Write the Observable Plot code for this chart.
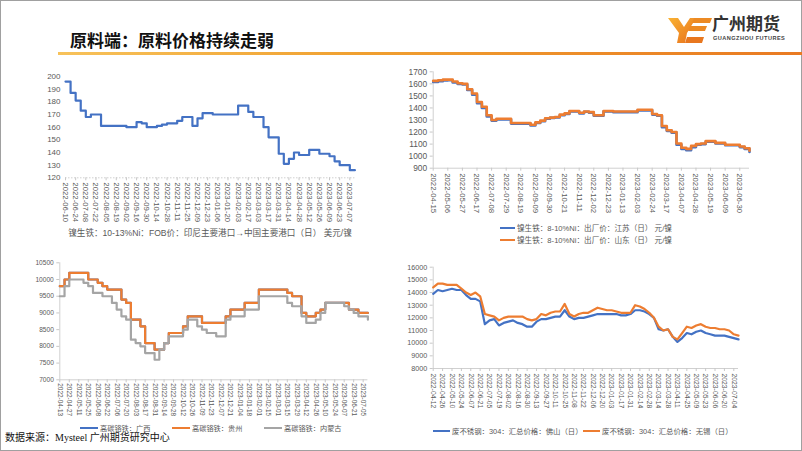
<!DOCTYPE html>
<html><head><meta charset="utf-8">
<script src="https://cdn.jsdelivr.net/npm/d3@7"></script>
<script src="https://cdn.jsdelivr.net/npm/@observablehq/plot@0.6"></script>
<style>
html,body{margin:0;padding:0;background:#fff;}
#slide{position:relative;width:802px;height:451px;overflow:hidden;font-family:"Noto Sans CJK SC",sans-serif;background:#fff;}
.abs{position:absolute;}
.leg{position:absolute;color:#595959;white-space:nowrap;font-family:"Liberation Sans","Noto Sans CJK SC",sans-serif;}
.sw{display:inline-block;height:2px;vertical-align:middle;margin-right:2px;position:relative;top:-1px;}
</style></head>
<body><div id="slide">
<div class="abs" style="left:0;top:0;width:802px;height:451px;box-sizing:border-box;border:1px solid #a0a0a0;"></div>
<div class="abs" style="left:70px;top:29px;font-size:17px;line-height:22px;font-weight:bold;color:#111;">原料端：原料价格持续走弱</div>
<div class="abs" style="left:58px;top:52px;width:744px;height:3px;background:linear-gradient(90deg,#f7c25a,#f0a030 40%,#e97a22);"></div>
<svg class="abs" style="left:668px;top:15px" width="44" height="30" viewBox="0 0 44 30">
<defs><linearGradient id="lg" x1="0" x2="1" y1="0" y2="1"><stop offset="0" stop-color="#f9b233"/><stop offset="1" stop-color="#e8711d"/></linearGradient></defs>
<polygon points="0,3 10,3 16,12 22,3 28,3 19,18 17,28 9,28 11,18" fill="url(#lg)"/>
<polygon points="26,3 44,3 42,8 24,8" fill="#ec8a24"/>
<polygon points="22,11 39,11 37,16 20,16" fill="#ec8a24"/>
<polygon points="19,22 36,22 34,28 17,28" fill="#e8771f"/>
</svg>
<div class="abs" style="left:712px;top:12px;font-size:17px;line-height:22px;font-weight:bold;color:#333;">广州期货</div>
<div class="abs" style="left:713px;top:35px;font-size:5.6px;line-height:7px;font-weight:bold;color:#444;letter-spacing:0.45px;font-family:'Liberation Sans',sans-serif;">GUANGZHOU FUTURES</div>

<div id="c1" class="abs" style="left:30px;top:60px"></div>
<div id="c2" class="abs" style="left:390px;top:60px"></div>
<div id="c3" class="abs" style="left:10px;top:250px"></div>
<div id="c4" class="abs" style="left:390px;top:255px"></div>

<div class="leg" style="left:30px;top:227px;width:360px;text-align:center;font-size:8.6px;line-height:13px;">镍生铁：10-13%Ni：FOB价：印尼主要港口→中国主要港口（日） 美元/镍</div>
<div class="leg" style="left:500px;top:223px;font-size:7.6px;line-height:12px;"><span class="sw" style="width:15px;background:#4472C4"></span>镍生铁：8-10%Ni：出厂价：江苏（日） 元/镍</div>
<div class="leg" style="left:500px;top:235px;font-size:7.6px;line-height:12px;"><span class="sw" style="width:15px;background:#ED7D31"></span>镍生铁：8-10%Ni：出厂价：山东（日） 元/镍</div>
<div class="leg" style="left:80px;top:423px;font-size:7.2px;line-height:11px;"><span class="sw" style="width:18px;background:#4472C4"></span>高碳铬铁：广西</div>
<div class="leg" style="left:172px;top:423px;font-size:7.2px;line-height:11px;"><span class="sw" style="width:18px;background:#ED7D31"></span>高碳铬铁：贵州</div>
<div class="leg" style="left:264px;top:423px;font-size:7.2px;line-height:11px;"><span class="sw" style="width:18px;background:#A5A5A5"></span>高碳铬铁：内蒙古</div>
<div class="leg" style="left:433px;top:426px;font-size:7.4px;line-height:12px;"><span class="sw" style="width:17px;background:#4472C4"></span>废不锈钢：304：汇总价格：佛山（日）</div>
<div class="leg" style="left:583px;top:426px;font-size:7.4px;line-height:12px;"><span class="sw" style="width:17px;background:#ED7D31"></span>废不锈钢：304：汇总价格：无锡（日）</div>
<div class="abs" style="left:5px;top:431px;font-size:10px;line-height:14px;color:#111;font-family:'Liberation Serif','Noto Sans CJK SC',serif;">数据来源：Mysteel 广州期货研究中心</div>
</div>
<script>
// ---------- Chart 1: 镍生铁 10-13%Ni FOB (weekly, from 2022-06-10) ----------
const c1Start = "2022-06-10";
const c1Ticks = ["2022-06-10","2022-06-24","2022-07-08","2022-07-22","2022-08-05","2022-08-19","2022-09-02","2022-09-16","2022-09-30","2022-10-14","2022-10-28","2022-11-11","2022-11-25","2022-12-09","2022-12-23","2023-01-06","2023-01-20","2023-02-03","2023-02-17","2023-03-03","2023-03-17","2023-03-31","2023-04-14","2023-04-28","2023-05-12","2023-05-26","2023-06-09","2023-06-23","2023-07-07"];
const c1YTicks = [120,130,140,150,160,170,180,190,200];
const c1Values = [196,187,181,173,168,170,170,161,161,161,161,161,160,160,164,163,160,160,161,162,163,163,165,168,168,161,167,171,171,170,170,170,170,170,177,177,172,168,168,160,152,152,139,131,135,140,138,138,142,142,139,139,137,133,130,130,126,126];

// ---------- Chart 2: 镍生铁 8-10%Ni 出厂价 (weekly, from 2022-04-15) ----------
const c2Start = "2022-04-15";
const c2Ticks = ["2022-04-15","2022-05-06","2022-05-27","2022-06-17","2022-07-08","2022-07-29","2022-08-19","2022-09-09","2022-09-30","2022-10-21","2022-11-11","2022-12-02","2022-12-23","2023-01-13","2023-02-03","2023-02-24","2023-03-17","2023-04-07","2023-04-28","2023-05-19","2023-06-09","2023-06-30"];
const c2YTicks = [900,1000,1100,1200,1300,1400,1500,1600,1700];
const c2Jiangsu = [1615,1622,1628,1630,1612,1600,1595,1550,1510,1440,1400,1330,1295,1305,1305,1305,1270,1270,1270,1270,1255,1275,1290,1310,1318,1322,1340,1350,1370,1370,1355,1368,1360,1335,1335,1370,1370,1365,1365,1365,1365,1365,1380,1380,1380,1345,1335,1240,1210,1195,1095,1060,1050,1075,1095,1100,1120,1120,1105,1105,1090,1090,1090,1075,1060,1035];
const c2Shandong = [1625,1630,1635,1635,1620,1605,1600,1555,1520,1450,1410,1340,1300,1310,1310,1310,1275,1275,1275,1275,1260,1280,1295,1315,1320,1325,1345,1355,1375,1375,1360,1370,1365,1340,1340,1375,1375,1370,1370,1370,1370,1370,1385,1385,1385,1350,1340,1250,1215,1200,1105,1070,1060,1085,1100,1105,1125,1125,1110,1110,1095,1095,1095,1080,1065,1045];

// ---------- Chart 3: 高碳铬铁 (weekly, from 2022-04-13) ----------
const c3Start = "2022-04-13";
const c3Ticks = ["2022-04-13","2022-04-27","2022-05-11","2022-05-25","2022-06-08","2022-06-22","2022-07-06","2022-07-20","2022-08-03","2022-08-17","2022-08-31","2022-09-14","2022-09-28","2022-10-12","2022-10-26","2022-11-09","2022-11-23","2022-12-07","2022-12-21","2023-01-04","2023-01-18","2023-02-01","2023-02-15","2023-03-01","2023-03-15","2023-03-29","2023-04-12","2023-04-26","2023-05-10","2023-05-24","2023-06-07","2023-06-21","2023-07-05"];
const c3YTicks = [7000,7500,8000,8500,9000,9500,10000,10500];
const c3Guangxi = [9800,10000,10200,10200,10200,10200,10000,10000,9900,9800,9700,9700,9700,9400,9300,8800,8800,8600,8100,8100,7900,7900,8100,8400,8400,8400,8600,8900,8900,8900,8700,8700,8700,8700,8700,8900,9100,9100,9100,9300,9300,9300,9700,9700,9700,9700,9700,9700,9600,9500,9500,9000,8900,8900,9000,9100,9300,9300,9300,9300,9300,9100,9100,9000,9000,9000];
const c3Guizhou = [9800,10000,10200,10200,10200,10200,10000,10000,9900,9800,9700,9700,9700,9400,9300,8800,8800,8600,8100,8100,7900,7900,8100,8400,8400,8400,8600,8900,8900,8900,8700,8700,8700,8700,8700,8900,9100,9100,9100,9300,9300,9300,9700,9700,9700,9700,9700,9700,9600,9500,9500,9000,8900,8900,9000,9100,9300,9300,9300,9300,9300,9100,9100,9000,9000,9000];
const c3Neimenggu = [9500,9800,10000,10000,10000,9900,9800,9600,9600,9500,9500,9300,9100,8900,8800,8200,8100,8000,7800,7800,7600,7900,8100,8300,8300,8300,8500,8800,8800,8600,8500,8400,8400,8300,8300,8800,8900,8900,8900,9100,9100,9100,9500,9500,9500,9500,9500,9500,9300,9200,9200,8900,8700,8700,8800,9000,9300,9300,9300,9300,9200,9100,9000,8900,8900,8800];

// ---------- Chart 4: 废不锈钢 304 (weekly, from 2022-04-12) ----------
const c4Start = "2022-04-12";
const c4Ticks = ["2022-04-12","2022-04-26","2022-05-10","2022-05-24","2022-06-07","2022-06-21","2022-07-05","2022-07-19","2022-08-02","2022-08-16","2022-08-30","2022-09-13","2022-09-27","2022-10-11","2022-10-25","2022-11-08","2022-11-22","2022-12-06","2022-12-20","2023-01-03","2023-01-17","2023-01-31","2023-02-14","2023-02-28","2023-03-14","2023-03-28","2023-04-11","2023-04-25","2023-05-09","2023-05-23","2023-06-06","2023-06-20","2023-07-04"];
const c4YTicks = [8000,9000,10000,11000,12000,13000,14000,15000,16000];
const c4Foshan = [13900,14200,14100,14200,14300,14200,14200,13800,13500,13500,13300,11500,11800,11900,11400,11600,11700,11800,11600,11500,11300,11300,11700,11900,11900,12000,12100,12100,12600,12100,11900,12000,12000,12100,12200,12300,12300,12300,12300,12300,12200,12200,12300,12600,12600,12500,12300,12000,11100,11000,11100,10500,10100,10400,10800,10700,10900,11000,10800,10700,10600,10600,10600,10500,10400,10300];
const c4Wuxi = [14400,14700,14700,14600,14600,14600,14300,14000,13800,14000,13700,12300,12200,12100,11800,12000,12100,12100,12100,12100,11900,11800,11900,12300,12200,12400,12500,12500,13100,12300,12100,12300,12400,12400,12600,12800,12700,12600,12600,12500,12400,12400,12400,13000,12900,12700,12400,12000,11300,11000,11100,10500,10300,10800,11300,11200,11400,11500,11300,11200,11200,11100,11100,11000,10700,10600];

const BLUE = "#4472C4", ORANGE = "#ED7D31", GRAY = "#A5A5A5";
const parse = d3.utcParse("%Y-%m-%d");
const fmtDate = d3.utcFormat("%Y-%m-%d");
const weekly = (start, vals) => vals.map((v, i) => ({date: d3.utcDay.offset(parse(start), 7 * i), value: v}));

function chart(o) {
  const xt = o.ticks.map(parse);
  const all = o.series.flatMap(s => s.data);
  const xDomain = [parse(o.start), d3.max(all, d => d.date)];
  const marks = [
    Plot.ruleY([o.yTicks[0]], {stroke: "#d0d0d0", strokeWidth: 1, strokeDasharray: o.dashed ? "1.5,1.5" : null}),
    o.yLine ? Plot.ruleX([xDomain[0]], {stroke: "#d0d0d0", strokeWidth: 1}) : null,
    Plot.axisX({ticks: xt, tickFormat: fmtDate, tickRotate: 90, tickSize: 3, tickPadding: o.xPad, fontSize: o.xFont, stroke: "#c8c8c8", label: null}),
    Plot.axisY({ticks: o.yTicks, tickFormat: d => String(d), tickSize: o.yLine ? 3 : 0, tickPadding: o.yPad, fontSize: o.yFont, stroke: "#c8c8c8", label: null}),
    ...o.series.map(s => Plot.line(s.data, {x: "date", y: "value", stroke: s.color, strokeWidth: s.w, curve: o.curve, strokeLinejoin: "round"}))
  ];
  return Plot.plot({
    width: o.width, height: o.height,
    marginLeft: o.mL, marginRight: o.mR, marginTop: o.mT, marginBottom: o.mB,
    style: {fontFamily: "'Liberation Sans', Arial, sans-serif", color: "#595959", background: "transparent", overflow: "visible"},
    x: {type: "utc", domain: xDomain, axis: null, label: null},
    y: {domain: [o.yTicks[0], o.yTicks[o.yTicks.length - 1]], axis: null, label: null},
    marks
  });
}

document.getElementById("c1").append(chart({
  start: c1Start, ticks: c1Ticks, yTicks: c1YTicks,
  width: 340, height: 168, mL: 35, mR: 15.6, mT: 16, mB: 50.7,
  xFont: 7.8, yFont: 8, xPad: 1.5, yPad: 5, yLine: false, dashed: true, curve: "step-after",
  series: [{data: weekly(c1Start, c1Values), color: BLUE, w: 2.2}]
}));
document.getElementById("c2").append(chart({
  start: c2Start, ticks: c2Ticks, yTicks: c2YTicks,
  width: 380, height: 158, mL: 42.7, mR: 21, mT: 11.3, mB: 50.3,
  xFont: 7.8, yFont: 8.4, xPad: 2, yPad: 3, yLine: true, curve: "step-after",
  series: [{data: weekly(c2Start, c2Jiangsu), color: BLUE, w: 2.6}, {data: weekly(c2Start, c2Shandong), color: ORANGE, w: 2.6}]
}));
document.getElementById("c3").append(chart({
  start: c3Start, ticks: c3Ticks, yTicks: c3YTicks,
  width: 370, height: 170, mL: 49.3, mR: 12.6, mT: 12.3, mB: 40.7,
  xFont: 6.4, yFont: 6.6, xPad: 0.5, yPad: 3, yLine: true, curve: "step-after",
  series: [{data: weekly(c3Start, c3Guangxi), color: BLUE, w: 2.2}, {data: weekly(c3Start, c3Guizhou), color: ORANGE, w: 2.2}, {data: weekly(c3Start, c3Neimenggu), color: GRAY, w: 2.2}]
}));
document.getElementById("c4").append(chart({
  start: c4Start, ticks: c4Ticks, yTicks: c4YTicks,
  width: 380, height: 160, mL: 42.7, mR: 32, mT: 11.7, mB: 47,
  xFont: 6.8, yFont: 7.2, xPad: 2, yPad: 3, yLine: true, curve: "linear",
  series: [{data: weekly(c4Start, c4Foshan), color: BLUE, w: 2.2}, {data: weekly(c4Start, c4Wuxi), color: ORANGE, w: 2.2}]
}));
</script>
</body></html>
